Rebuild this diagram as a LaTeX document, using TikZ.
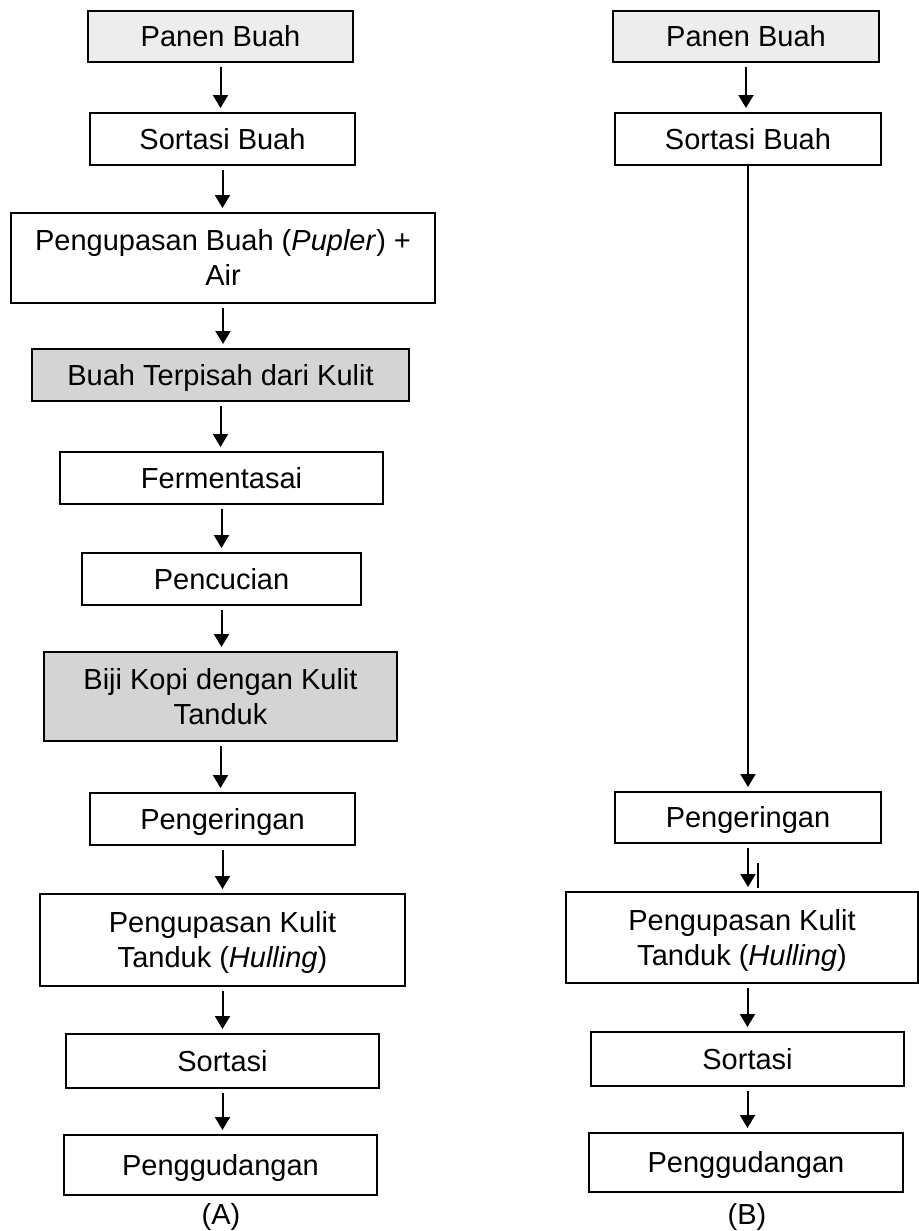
\documentclass[tikz,border=0pt]{standalone}
\usepackage{fontspec}
\setmainfont{Liberation Sans}
\usepackage{tikz}
\usetikzlibrary{arrows.meta,positioning,calc}
\tikzset{
  box/.style={draw,line width=1pt,align=center,minimum height=26pt,
              minimum width=132.5pt,inner sep=2pt,outer sep=0pt,
              text height=10.4pt,text depth=0pt},
  two/.style={text height=27.9pt},                % dua baris teks
  pale/.style={box,fill=black!7},                 % awal proses: abu-abu muda
  dark/.style={box,fill=black!17},                % hasil antara: abu-abu
  ar/.style={-{Triangle[length=6.5pt,width=7.5pt]},line width=1pt,
             shorten <=2.5pt,shorten >=2.5pt},
  lbl/.style={inner sep=1pt}
}

\begin{document}
\begin{tikzpicture}[x=0.5pt,y=-0.5pt,font=\fontsize{14.5pt}{17.5pt}\selectfont]
  \useasboundingbox (0,0) rectangle (919,1231);

  % (A)
  \node[pale,minimum height=25.5pt]                    (panA)    at (220.5,36.5) {Panen Buah};
  \node[box]                                           (sortA)   at (222.5,139)  {Sortasi Buah};
  \node[box,two,minimum width=212pt,minimum height=45pt] (kupasA) at (223,258)   {Pengupasan Buah (\textit{Pupler}) +\\Air};
  \node[dark,minimum width=188.5pt]                    (pisahA)  at (220.5,375)  {Buah Terpisah dari Kulit};
  \node[box,minimum width=161.5pt]                     (fermA)   at (221.5,478)  {Fermentasai};
  \node[box,minimum width=139.5pt]                     (cuciA)   at (221.5,579)  {Pencucian};
  \node[dark,two,minimum width=176.5pt,minimum height=44.5pt] (bijiA) at (220.5,696.5) {Biji Kopi dengan Kulit\\Tanduk};
  \node[box]                                           (keringA) at (222.5,819)  {Pengeringan};
  \node[box,two,minimum width=182.5pt,minimum height=46pt] (hullA) at (222.5,940) {Pengupasan Kulit\\Tanduk (\textit{Hulling})};
  \node[box,minimum width=156.5pt,minimum height=27pt] (sortiA)  at (222.5,1061) {Sortasi};
  \node[box,minimum width=156.5pt,minimum height=30pt] (gudangA) at (220.5,1165) {Penggudangan};
  \node[lbl]                                           (labA)    at (221,1217)   {(A)};

  \draw[ar] (panA) -- (panA |- sortA.north);
  \draw[ar] (sortA) -- (sortA |- kupasA.north);
  \draw[ar] (kupasA) -- (kupasA |- pisahA.north);
  \draw[ar] (pisahA) -- (pisahA |- fermA.north);
  \draw[ar] (fermA) -- (fermA |- cuciA.north);
  \draw[ar] (cuciA) -- (cuciA |- bijiA.north);
  \draw[ar] (bijiA) -- (bijiA |- keringA.north);
  \draw[ar] (keringA) -- (keringA |- hullA.north);
  \draw[ar] (hullA) -- (hullA |- sortiA.north);
  \draw[ar] (sortiA) -- (sortiA |- gudangA.north);

  % (B)
  \node[pale,minimum width=133pt,minimum height=25.5pt] (panB)    at (746,36.5)   {Panen Buah};
  \node[box,minimum width=133pt]                       (sortB)   at (748,139)    {Sortasi Buah};
  \node[box,minimum width=133pt,minimum height=25.5pt] (keringB) at (748,817.5)  {Pengeringan};
  \node[box,two,minimum width=176pt,minimum height=45.5pt] (hullB) at (742,937.5) {Pengupasan Kulit\\Tanduk (\textit{Hulling})};
  \node[box,minimum width=156.5pt,minimum height=27pt] (sortiB)  at (747.5,1059) {Sortasi};
  \node[box,minimum width=157pt,minimum height=29.5pt] (gudangB) at (746,1162.5) {Penggudangan};
  \node[lbl]                                           (labB)    at (747,1217)   {(B)};

  \draw[ar] (panB) -- (panB |- sortB.north);
  \draw[ar,shorten <=0pt] (sortB) -- (sortB |- keringB.north);
  \draw[ar] (keringB) -- (keringB |- hullB.north);
  \draw[line width=0.8pt] ([xshift=5pt,yshift=-10pt]keringB.south) -- ([xshift=5pt,yshift=2pt]keringB.south |- hullB.north);
  \draw[ar] (hullB.south -| sortiB) -- (sortiB.north);
  \draw[ar] (sortiB) -- (sortiB |- gudangB.north);
\end{tikzpicture}
\end{document}
